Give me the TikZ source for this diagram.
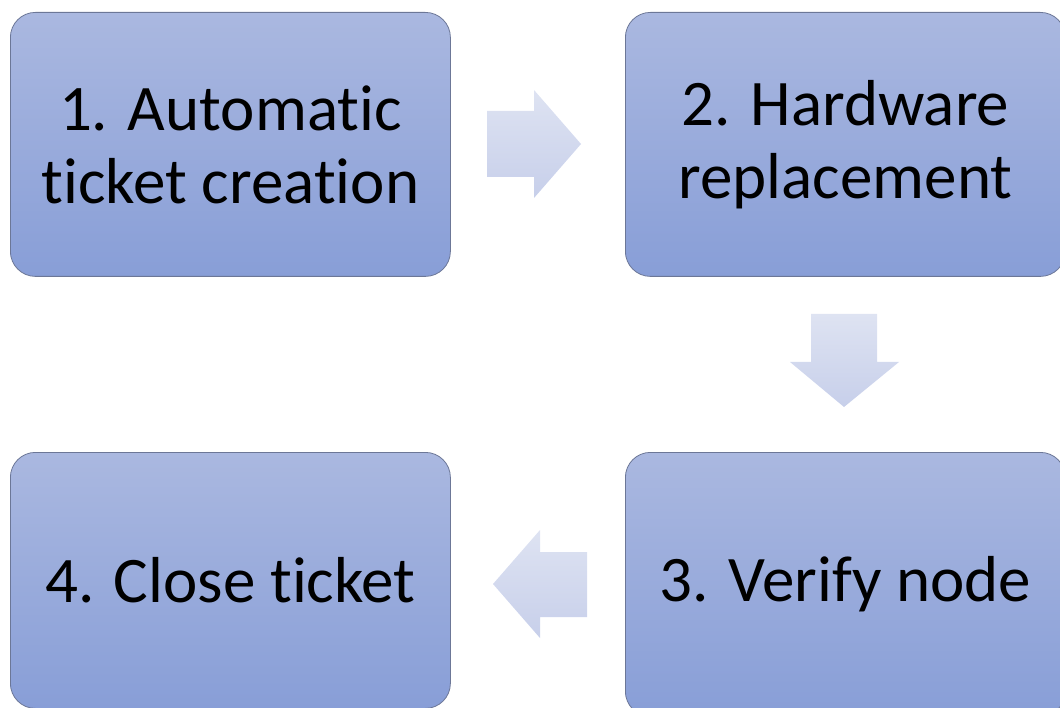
\documentclass[tikz,border=0pt]{standalone}
\usepackage{fontspec}
\setmainfont[Ligatures=NoCommon]{Carlito}
\begin{document}
\begin{tikzpicture}[x=1pt,y=-1pt]
\definecolor{boxtop}{HTML}{AAB8E0}
\definecolor{boxbot}{HTML}{889ED7}
\definecolor{boxline}{HTML}{6C7797}
\definecolor{arrtop}{HTML}{DEE3F2}
\definecolor{arrbot}{HTML}{C7CFEA}
\tikzset{
  stepbox/.style={draw=boxline, line width=0.8pt, rounded corners=25pt,
    top color=boxtop, bottom color=boxbot, anchor=north west,
    minimum width=440pt, minimum height=264pt, inner sep=0pt,
    align=center, font=\fontsize{65}{73}\selectfont, text=black},
  blockarrow/.style={top color=arrtop, bottom color=arrbot, draw=none}
}
\useasboundingbox (0,0) rectangle (1060,708);

% process steps
\node[stepbox] (s1) at (10,12) {1. Automatic\\ticket creation};
\node[stepbox] (s2) at (625,12) {2. Hardware\\replacement};
\node[stepbox] (s3) at (625,452) {3. Verify node};
\node[stepbox, minimum height=256pt] (s4) at (10,452) {4. Close ticket};

% block arrows between the steps
\path[blockarrow] (487,111) -- (534,111) -- (534,90) -- (581,144)
  -- (534,198) -- (534,177) -- (487,177) -- cycle;
\path[blockarrow] (811,314) -- (877,314) -- (877,362) -- (899,362)
  -- (844,407) -- (790,362) -- (811,362) -- cycle;
\path[blockarrow] (587,552) -- (540,552) -- (540,530) -- (493,584)
  -- (540,638) -- (540,617) -- (587,617) -- cycle;
\end{tikzpicture}
\end{document}
